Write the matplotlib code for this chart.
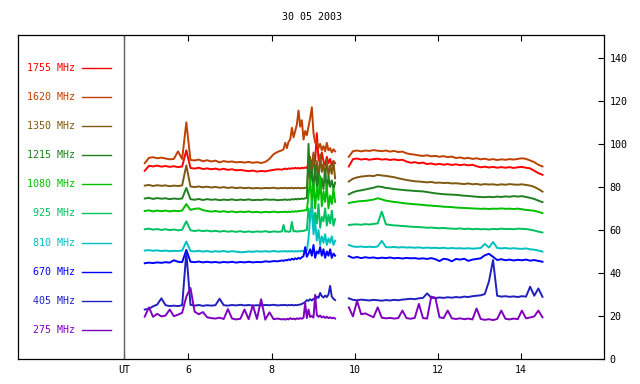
import matplotlib
matplotlib.use('Agg')
import matplotlib.pyplot as plt
import numpy as np

plt.rcParams['font.family'] = 'DejaVu Sans Mono'

# --- Data (flux levels) ----------------------------------------------
# a: 4.95-8.25 UT every 0.1 h, b: 8.29-9.53 UT every 0.04 h, c: 9.86-14.52 UT
f1755_a = [87.5, 89.8, 89.5, 89.9, 89.4, 89.7, 89.3, 89.6, 89.2, 89.5, 97.0, 88.8, 88.5, 88.9, 88.3, 88.6, 88.2,
           88.5, 88.0, 88.4, 87.9, 88.2, 87.7, 87.9, 87.6, 87.3, 87.6, 87.1, 87.4, 87.2, 87.6, 87.9, 88.2, 88.0]
f1755_b = [88.3, 88.5, 88.2, 88.6, 88.4, 88.7, 88.5, 88.9, 88.6, 88.8, 88.5, 88.9, 88.7, 89.0, 88.8,
           91, 93, 90, 95, 92, 105, 93, 91, 96, 92, 90, 94, 91, 93, 90, 92, 91]
f1755_c = [89.5, 92.9, 93.2, 92.7, 93.0, 92.6, 92.9, 93.1, 92.7, 92.9, 92.5, 92.8, 92.4, 92.6, 91.8, 91.2,
           91.5, 91.0, 91.3, 90.6, 90.9, 90.4, 90.7, 90.3, 90.6, 90.2, 90.5, 90.1, 90.4, 90.0, 90.3, 89.6,
           89.1, 89.4, 89.0, 89.3, 88.9, 89.2, 88.9, 89.2, 88.8, 89.1, 89.3, 88.9, 88.6, 87.5, 86.4, 85.6]

f1620_a = [91.0, 93.5, 93.8, 93.3, 93.6, 93.2, 92.8, 93.0, 96.5, 93.0, 110.0, 92.5, 92.3, 92.7, 91.9, 92.4, 91.8,
           92.2, 91.4, 92.0, 91.6, 91.8, 91.4, 91.6, 91.3, 91.6, 91.2, 91.5, 91.1, 91.6, 93.0, 95.2, 96.3, 97.0]
f1620_b = [97.5, 100.5, 98.0, 101.0, 102.0, 107.5, 103.0, 106.0, 109.0, 115.5, 108.0, 111.0, 102.0, 106.0, 104.0,
           108.0, 112.0, 117.0, 105.0, 100.5, 101.0, 98.0, 100.0, 97.0, 99.0, 96.5, 100.5, 97.0, 98.0, 96.0,
           97.5, 96.5]
f1620_c = [94.0, 96.6, 96.9, 96.5, 96.9, 96.7, 97.1, 96.8, 96.6, 96.9, 96.4, 96.7, 96.2, 96.4, 95.6, 95.2,
           95.0, 94.6, 94.4, 94.7, 94.2, 94.4, 94.0, 94.3, 93.8, 94.1, 93.4, 93.7, 93.2, 93.5, 93.0, 93.3,
           92.8, 93.1, 92.6, 92.9, 92.5, 92.8, 92.6, 92.9, 92.7, 93.0, 93.3, 93.0, 92.3, 91.5, 90.3, 89.5]

f1350_a = [80.6, 80.9, 80.4, 80.8, 80.5, 80.7, 80.3, 80.6, 80.4, 80.7, 90.0, 80.2, 79.9, 80.2, 79.8, 80.1, 79.7,
           80.0, 79.6, 79.9, 79.5, 79.8, 79.4, 79.7, 79.4, 79.6, 79.3, 79.5, 79.3, 79.5, 79.4, 79.6, 79.3, 79.5]
f1350_b = [79.4, 79.6, 79.3, 79.5, 79.4, 79.6, 79.3, 79.5, 79.4, 79.6, 79.3, 79.5, 79.4, 79.6, 79.5,
           88, 94, 84, 96, 86, 92, 83, 95, 87, 91, 84, 93, 85, 90, 86, 92, 84]
f1350_c = [82.5, 83.8, 84.4, 84.8, 85.0, 85.2, 85.0, 85.6, 85.3, 85.1, 84.8, 84.5, 84.0, 83.6, 83.2, 82.9,
           82.6, 82.5, 82.3, 82.1, 82.3, 81.9, 82.0, 81.8, 81.9, 81.6, 81.7, 81.5, 81.3, 81.6, 81.2, 81.4,
           81.0, 81.3, 81.1, 81.2, 80.9, 81.2, 81.0, 81.3, 81.1, 81.0, 81.2, 80.9, 80.6, 80.0, 79.0, 77.8]

f1215_a = [74.6, 74.9, 74.4, 74.8, 74.5, 74.7, 74.3, 74.6, 74.4, 74.6, 79.5, 74.3, 74.0, 74.4, 73.9, 74.3, 74.0,
           74.2, 73.8, 74.1, 73.9, 74.2, 73.8, 74.1, 73.9, 74.2, 73.8, 74.0, 73.9, 74.2, 74.0, 74.1, 73.8, 74.0]
f1215_b = [74.0, 74.2, 73.9, 74.1, 74.0, 74.3, 74.1, 74.4, 74.2, 74.5, 74.3, 74.6, 74.4, 74.7, 74.8,
           100, 82, 88, 78, 90, 80, 86, 77, 84, 79, 88, 78, 85, 80, 83, 79, 82]
f1215_c = [76.5, 77.5, 78.1, 78.4, 78.8, 79.2, 79.6, 80.2, 80.0, 79.5, 79.3, 79.0, 78.8, 78.6, 78.4, 78.3,
           78.1, 78.0, 77.9, 77.6, 77.3, 77.0, 76.8, 76.6, 76.5, 76.4, 76.3, 76.1, 75.9, 75.8, 75.6, 75.4,
           75.3, 75.2, 75.4, 75.2, 75.5, 75.3, 75.6, 75.4, 75.7, 75.5, 75.7, 75.3, 74.9, 74.4, 73.6, 72.9]

f1080_a = [68.8, 69.1, 68.6, 69.0, 68.7, 69.0, 68.6, 68.9, 68.7, 69.0, 72.0, 69.3, 69.8, 70.0, 69.2, 68.8, 68.5,
           68.8, 68.4, 68.7, 68.3, 68.6, 68.2, 68.5, 68.3, 68.6, 68.2, 68.4, 68.1, 68.4, 68.2, 68.5, 68.2, 68.4]
f1080_b = [68.3, 68.5, 68.2, 68.5, 68.3, 68.6, 68.4, 68.7, 68.5, 68.8, 68.7, 69.0, 68.9, 69.2, 69.1,
           76, 84, 72, 82, 70, 80, 74, 85, 71, 78, 73, 81, 70, 76, 72, 79, 73]
f1080_c = [72.5, 72.9, 73.2, 73.4, 73.5, 73.8, 74.1, 74.7, 74.2, 73.6, 73.3, 73.0, 72.8, 72.5, 72.3, 72.1,
           71.9, 71.8, 71.6, 71.4, 71.3, 71.1, 71.0, 70.8, 70.7, 70.6, 70.4, 70.3, 70.2, 70.1, 70.0, 69.9,
           69.8, 69.9, 69.7, 69.9, 69.8, 70.0, 69.8, 69.9, 69.7, 69.9, 69.6, 69.3, 69.1, 68.9, 68.4, 67.8]

f925_a = [60.3, 60.6, 60.1, 60.4, 60.0, 60.3, 59.9, 60.2, 59.8, 60.1, 64.0, 59.8, 59.5, 59.8, 59.4, 59.7, 59.3,
          59.6, 59.2, 59.5, 59.2, 59.4, 59.1, 59.4, 59.0, 59.3, 59.0, 59.3, 59.1, 59.4, 59.0, 59.3, 59.1, 59.3]
f925_b = [62.3, 59.2, 59.4, 59.1, 59.3, 63.7, 59.3, 59.5, 59.2, 59.4, 59.3, 59.6, 59.5, 59.8, 60.0,
          70, 64, 74, 62, 68, 63, 72, 61, 66, 64, 70, 62, 67, 63, 69, 62, 65]
f925_c = [62.3, 62.5, 62.6, 62.4, 62.7, 62.5, 62.8, 63.0, 68.5, 62.6, 62.3, 62.1, 62.0, 61.8, 61.7, 61.5,
          61.4, 61.3, 61.2, 61.0, 61.1, 60.9, 60.8, 60.9, 60.7, 60.6, 60.5, 60.7, 60.4, 60.6, 60.3, 60.5,
          60.3, 60.4, 60.2, 60.5, 60.3, 60.6, 60.4, 60.5, 60.3, 60.6, 60.5, 60.4, 60.1, 59.7, 59.2, 58.8]

f810_a = [50.4, 50.6, 50.3, 50.5, 50.2, 50.4, 50.1, 50.3, 50.2, 50.4, 54.6, 50.2, 50.0, 50.3, 49.9, 50.2, 49.8,
          50.1, 49.9, 50.2, 49.8, 50.1, 49.9, 49.6, 49.7, 50.0, 49.8, 50.1, 49.9, 50.1, 49.9, 50.2, 49.9, 50.1]
f810_b = [50.0, 50.2, 49.9, 50.1, 50.0, 50.2, 49.9, 50.1, 50.0, 50.2, 50.0, 50.3, 50.1, 50.3, 50.4,
          56, 66, 70, 58, 64, 55, 60, 53, 57, 54, 58, 53, 56, 54, 57, 53, 55]
f810_c = [53.0, 52.3, 52.1, 52.3, 52.0, 52.2, 52.0, 52.3, 54.9, 52.0, 51.9, 52.1, 51.8, 52.0, 51.8, 51.9,
          51.7, 51.9, 51.6, 51.8, 51.6, 51.7, 51.5, 51.7, 51.4, 51.6, 51.4, 51.5, 51.3, 51.5, 51.3, 51.4,
          51.6, 53.5, 51.8, 54.4, 51.6, 51.4, 51.6, 51.3, 51.5, 51.3, 51.2, 51.4, 51.0, 50.8, 50.4, 49.9]

f670_a = [44.5, 44.8, 44.6, 44.9, 44.7, 45.0, 44.8, 45.9, 45.2, 45.0, 50.7, 45.2, 45.0, 45.3, 44.9, 45.2, 44.9,
          45.1, 44.8, 45.1, 44.9, 45.2, 44.8, 45.1, 44.9, 45.2, 44.9, 45.1, 45.0, 45.4, 45.2, 45.5, 45.4, 45.8]
f670_b = [45.6, 46.0, 45.8, 46.3, 46.0, 46.6, 46.2, 46.8, 46.4, 47.0, 46.6, 47.3, 47.8, 52.0, 47.5,
          49, 51, 48, 53, 47, 50, 49, 52, 48, 51, 47, 50, 48, 51, 47, 49, 48]
f670_c = [47.8, 47.0, 47.4, 46.9, 47.3, 47.0, 47.2, 46.8, 47.1, 46.9, 47.2, 46.8, 47.0, 46.7, 47.0, 46.8,
          46.9, 46.6, 46.8, 46.5, 46.9, 46.4, 45.5, 46.6, 46.3, 45.4, 46.5, 46.2, 46.6, 45.6, 46.2, 46.5,
          46.8, 48.2, 48.9, 47.5, 46.0, 46.4, 45.9, 46.2, 45.8, 46.1, 45.9, 46.2, 45.7, 46.0, 45.6, 45.2]

f405_a = [23.0, 23.3, 24.5, 25.3, 28.2, 25.0, 24.6, 24.8, 24.6, 25.0, 49.5, 25.2, 24.8, 25.1, 24.7, 25.0, 24.8,
          25.0, 28.0, 25.0, 24.8, 25.1, 24.9, 25.2, 24.9, 25.1, 24.8, 25.0, 24.9, 25.1, 25.0, 25.2, 24.9, 25.1]
f405_b = [25.0, 25.2, 24.9, 25.1, 25.0, 25.2, 24.9, 25.1, 25.0, 25.2, 25.3, 25.6, 26.0, 26.5, 27.4,
          27.0, 27.8, 27.2, 28.0, 27.5, 29.0, 28.4, 30.7, 29.2, 28.6, 29.5, 28.8, 30.0, 34.0, 29.0, 28.0, 27.4]
f405_c = [28.2, 27.5, 27.3, 27.6, 27.4, 27.2, 27.5, 27.3, 27.1, 27.4, 27.2, 27.5, 27.3, 27.6, 27.8, 28.0,
          27.8, 28.2, 28.4, 30.5, 28.5, 28.3, 28.6, 28.4, 28.7, 28.5, 28.8, 28.6, 29.0, 28.8, 29.2, 29.4,
          29.6, 30.2, 36.0, 46.0, 29.4, 29.0, 29.2, 28.9, 29.1, 28.8, 29.2, 29.0, 33.6, 29.4, 32.8, 28.9]

f275_a = [19.7, 24.0, 19.6, 21.0, 19.8, 20.2, 23.0, 19.9, 20.6, 21.5, 29.0, 33.0, 22.0, 20.8, 21.8, 19.4, 19.0,
          18.8, 19.2, 18.6, 23.2, 18.8, 18.4, 18.7, 23.0, 18.5, 25.0, 18.6, 27.8, 18.3, 21.7, 18.5, 18.8, 18.4]
f275_b = [18.6, 18.3, 18.7, 18.4, 19.0, 18.5, 18.8, 18.4, 18.9, 18.6, 19.0, 18.7, 19.2, 25.9, 19.0,
          23.0, 19.5, 20.0, 19.2, 29.8, 20.5, 19.6, 20.2, 19.3, 19.8, 19.1, 19.6, 19.0, 19.4, 18.9, 19.2, 18.8]
f275_c = [24.0, 19.8, 27.0, 20.8, 21.2, 20.3, 19.4, 24.0, 19.2, 18.9, 19.1, 18.8, 19.0, 22.5, 19.0, 18.7,
          19.1, 25.6, 19.0, 18.8, 29.0, 28.5, 19.4, 19.0, 22.5, 18.9, 18.6, 18.9, 18.5, 18.8, 18.4, 23.5,
          18.6, 18.2, 18.5, 18.1, 18.6, 22.5, 18.7, 18.4, 18.8, 18.5, 22.5, 18.9, 19.3, 19.8, 22.5, 19.4]

labels = ['1755 MHz', '1620 MHz', '1350 MHz', '1215 MHz', '1080 MHz',
          '925 MHz', '810 MHz', '670 MHz', '405 MHz', '275 MHz']
colors = ['#FF0000', '#C04000', '#805810', '#208020', '#00C000',
          '#00C060', '#00C0C0', '#0000FF', '#2020C0', '#8000C0']
part_a = [f1755_a, f1620_a, f1350_a, f1215_a, f1080_a, f925_a, f810_a, f670_a, f405_a, f275_a]
part_b = [f1755_b, f1620_b, f1350_b, f1215_b, f1080_b, f925_b, f810_b, f670_b, f405_b, f275_b]
part_c = [f1755_c, f1620_c, f1350_c, f1215_c, f1080_c, f925_c, f810_c, f670_c, f405_c, f275_c]

xticks = [6, 8, 10, 12, 14]
yticks = [0, 20, 40, 60, 80, 100, 120, 140]

# --- Figure ----------------------------------------------------------
fig = plt.figure(figsize=(6.4, 3.84), dpi=100)
ax = fig.add_axes([18 / 640, 25 / 384, 586 / 640, 324 / 384])
ax.set_xlim(1.9, 16.0)
ax.set_ylim(0, 150.6)

for i, (lab, col) in enumerate(zip(labels, colors)):
    a, b, c = part_a[i], part_b[i], part_c[i]
    t1 = np.concatenate([4.95 + 0.1 * np.arange(len(a)), 8.29 + 0.04 * np.arange(len(b))])
    ax.plot(t1, a + b, color=col, lw=1.4)
    t2 = np.linspace(9.86, 14.52, len(c))
    ax.plot(t2, c, color=col, lw=1.4)

    # legend on the left panel
    y = 135.4 - i * 13.55
    ax.plot([3.44, 4.14], [y, y], color=col, lw=1)
    ax.text(3.27, y, lab, color=col, ha='right', va='center', fontsize=7.2)

# separator between legend and data
ax.axvline(4.45, color='#606060', lw=1)

ax.set_xticks([4.45] + xticks)
ax.set_xticklabels(['UT'] + [str(v) for v in xticks], fontsize=7.2)
ax.tick_params(axis='x', direction='in', top=True, length=4, width=0.8, pad=4)
ax.yaxis.tick_right()
ax.set_yticks(yticks)
ax.set_yticklabels([str(v) for v in yticks], fontsize=7.2)
ax.tick_params(axis='y', direction='in', left=False, right=True, length=4, width=0.8, pad=4)
for s in ax.spines.values():
    s.set_linewidth(0.9)

fig.text(312 / 640, 1 - 17 / 384, '30 05 2003', ha='center', va='center', fontsize=7.2)

fig.savefig('out.png', dpi=100, facecolor='white')
